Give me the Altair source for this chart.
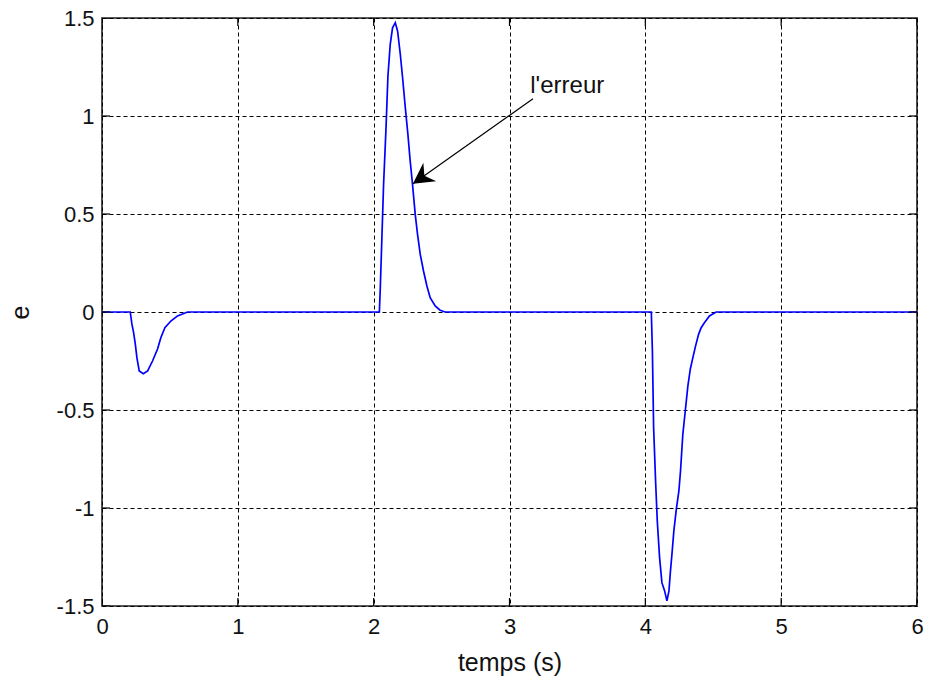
import altair as alt
import pandas as pd

# time (s) and error e
t_vals = [0, 0.208, 0.22, 0.233, 0.245, 0.257, 0.274, 0.304, 0.336, 0.372, 0.409, 0.433, 0.463, 0.507, 0.556, 0.63,
          2.042, 2.049, 2.061, 2.073, 2.091, 2.105, 2.122, 2.139, 2.159, 2.176, 2.196, 2.213, 2.233, 2.252, 2.269,
          2.286, 2.306, 2.323, 2.343, 2.367, 2.392, 2.416, 2.453, 2.489, 2.526,
          4.044, 4.052, 4.061, 4.076, 4.088, 4.105, 4.122, 4.142, 4.159, 4.174, 4.184, 4.198, 4.21, 4.228, 4.247,
          4.259, 4.276, 4.294, 4.313, 4.331, 4.35, 4.37, 4.392, 4.411, 4.435, 4.472, 4.521, 6.0]
e_vals = [0, 0, -0.061, -0.106, -0.163, -0.233, -0.301, -0.315, -0.301, -0.25, -0.189, -0.131, -0.08, -0.046, -0.02, 0,
          0, 0.128, 0.388, 0.651, 0.94, 1.204, 1.366, 1.45, 1.476, 1.434, 1.315, 1.195, 1.042, 0.906, 0.77,
          0.651, 0.498, 0.396, 0.294, 0.209, 0.133, 0.073, 0.031, 0.009, 0,
          0, -0.199, -0.59, -0.871, -1.066, -1.253, -1.381, -1.423, -1.474, -1.423, -1.33, -1.219, -1.117, -1.007, -0.913,
          -0.811, -0.624, -0.505, -0.378, -0.292, -0.233, -0.173, -0.114, -0.08, -0.055, -0.02, 0, 0]

x_ticks = [0, 1, 2, 3, 4, 5, 6]
y_ticks = [-1.5, -1, -0.5, 0, 0.5, 1, 1.5]

annot_text = ["l'erreur"]
annot_text_pos = [3.153, 1.115]
arrow_start = [3.173, 1.088]
arrow_end = [2.289, 0.654]

W, H = 815, 588
FONT = "Liberation Sans"
TXT = "#111111"

df = pd.DataFrame({"t": t_vals, "e": e_vals})
xt = pd.DataFrame({"t": x_ticks})
yt = pd.DataFrame({"e": y_ticks})

xscale = alt.Scale(domain=[0, 6], nice=False, zero=False)
yscale = alt.Scale(domain=[-1.5, 1.5], nice=False, zero=False)

label_expr = "datum.value < 0 ? '-' + format(-datum.value, '~g') : format(datum.value, '~g')"

x_axis = alt.Axis(values=x_ticks, title="temps (s)", grid=True, gridColor="#000000", gridDash=[4, 3],
                  gridOpacity=1, gridWidth=1, ticks=False, tickSize=0, domain=False,
                  labelFont=FONT, labelFontSize=22, labelColor=TXT, labelPadding=10,
                  labelExpr=label_expr, labelFlush=False,
                  titleFont=FONT, titleFontSize=25, titleFontWeight="normal", titleColor=TXT,
                  titleY=56, titleBaseline="middle")
y_axis = alt.Axis(values=y_ticks, title="e", grid=True, gridColor="#000000", gridDash=[4, 3],
                  gridOpacity=1, gridWidth=1, ticks=False, tickSize=0, domain=False,
                  labelFont=FONT, labelFontSize=22, labelColor=TXT, labelPadding=8,
                  labelExpr=label_expr, labelFlush=False,
                  titleFont=FONT, titleFontSize=25, titleFontWeight="normal", titleColor=TXT,
                  titleX=-82, titleY=H / 2, titleBaseline="middle", titleAngle=-90)

line = alt.Chart(df).mark_line(color="#0000FF", strokeWidth=1.7, clip=True).encode(
    x=alt.X("t:Q", scale=xscale, axis=x_axis),
    y=alt.Y("e:Q", scale=yscale, axis=y_axis),
)

tick_style = dict(clip=True, size=16, thickness=1.2, color="#000000", opacity=1)
bottom_ticks = alt.Chart(xt).mark_tick(orient="vertical", **tick_style).encode(
    x=alt.X("t:Q", scale=xscale), y=alt.value(H))
top_ticks = alt.Chart(xt).mark_tick(orient="vertical", **tick_style).encode(
    x=alt.X("t:Q", scale=xscale), y=alt.value(0))
left_ticks = alt.Chart(yt).mark_tick(orient="horizontal", **tick_style).encode(
    y=alt.Y("e:Q", scale=yscale), x=alt.value(0))
right_ticks = alt.Chart(yt).mark_tick(orient="horizontal", **tick_style).encode(
    y=alt.Y("e:Q", scale=yscale), x=alt.value(W))

arrow_df = pd.DataFrame({"t": [arrow_start[0]], "e": [arrow_start[1]],
                         "t2": [arrow_end[0]], "e2": [arrow_end[1]]})
arrow_line = alt.Chart(arrow_df).mark_rule(color="#000000", strokeWidth=1.2).encode(
    x=alt.X("t:Q", scale=xscale), y=alt.Y("e:Q", scale=yscale), x2="t2:Q", y2="e2:Q")

head_df = pd.DataFrame({"t": [arrow_end[0]], "e": [arrow_end[1]]})
arrow_head = alt.Chart(head_df).mark_point(
    shape="M0,0 L0.6,1.1 L0,0.75 L-0.6,1.1 Z", filled=True, color="#000000", opacity=1,
    size=1400, angle=235).encode(
    x=alt.X("t:Q", scale=xscale), y=alt.Y("e:Q", scale=yscale))

text_df = pd.DataFrame({"t": [annot_text_pos[0]], "e": [annot_text_pos[1]], "label": annot_text})
annot = alt.Chart(text_df).mark_text(align="left", baseline="alphabetic", font=FONT, fontSize=24,
                                      color=TXT).encode(
    x=alt.X("t:Q", scale=xscale), y=alt.Y("e:Q", scale=yscale), text="label:N")

chart = alt.layer(line, bottom_ticks, top_ticks, left_ticks, right_ticks, arrow_line, arrow_head, annot).properties(
    width=W, height=H,
    autosize=alt.AutoSizeParams(type="none"),
    padding={"left": 102, "top": 18, "right": 11, "bottom": 76},
    background="#ffffff",
).configure_view(stroke="#222222", strokeWidth=1.6)

chart.save("out.html", embed_options={"renderer": "svg", "actions": False})
